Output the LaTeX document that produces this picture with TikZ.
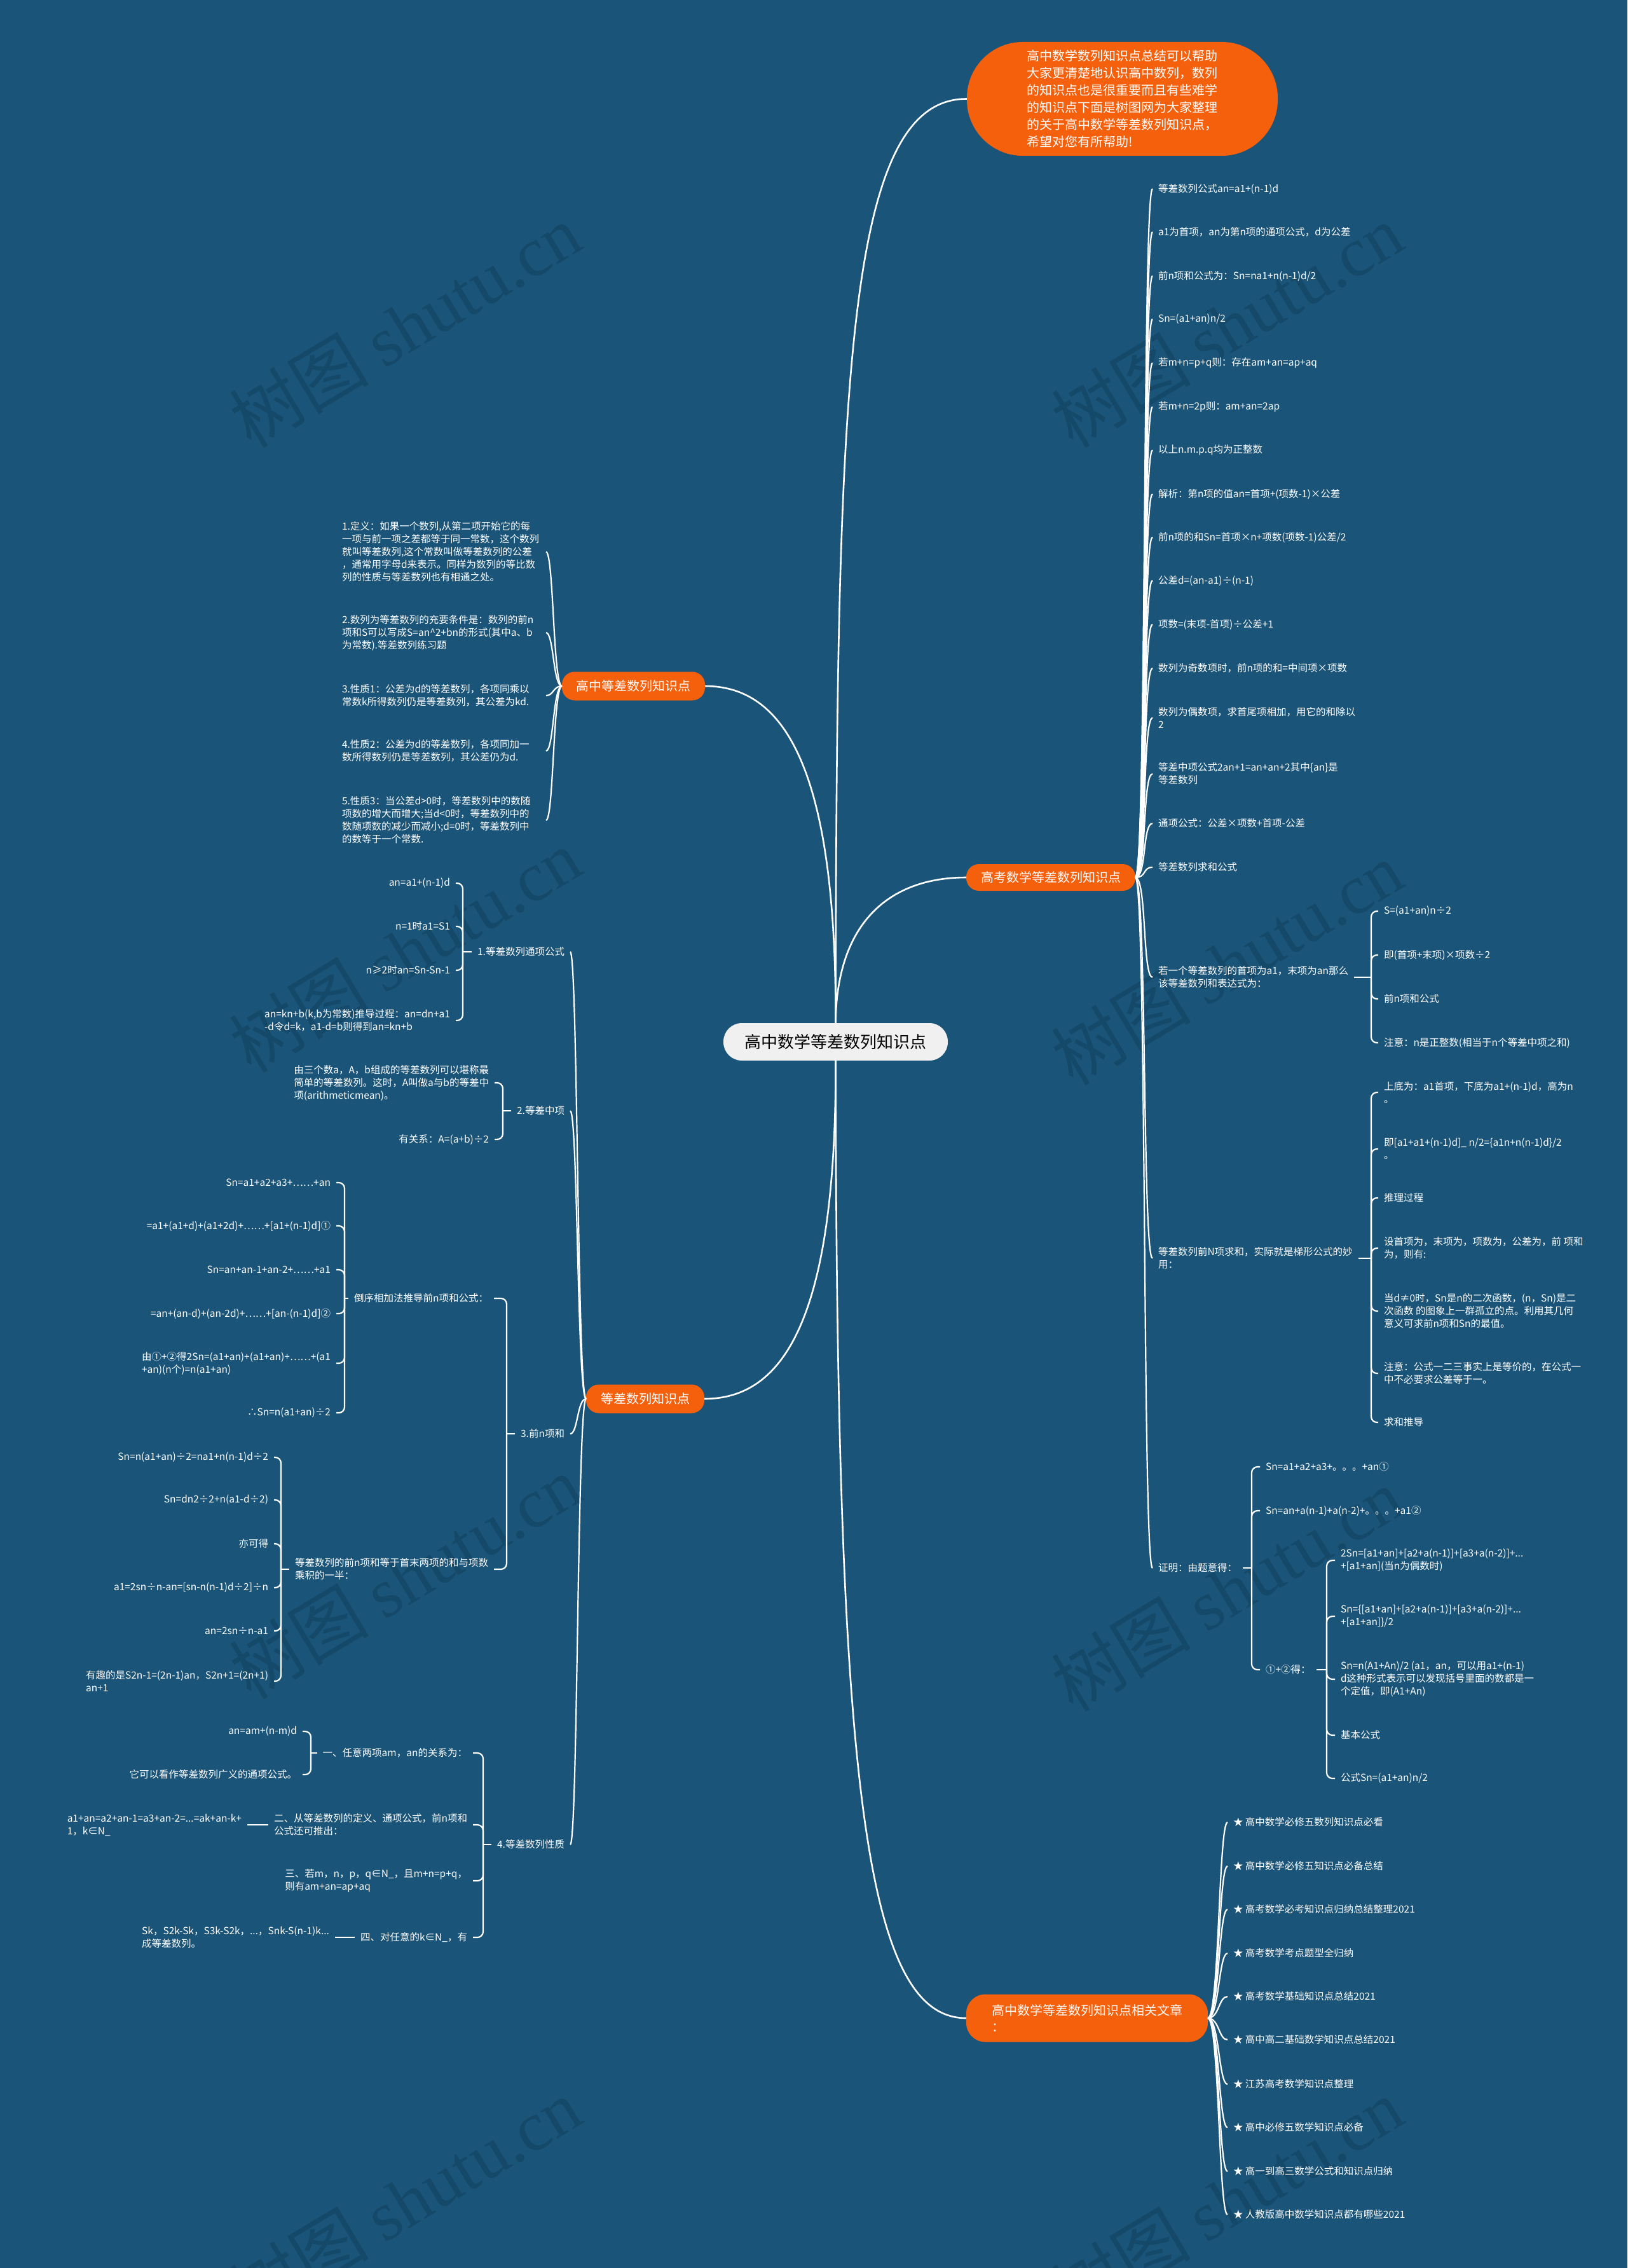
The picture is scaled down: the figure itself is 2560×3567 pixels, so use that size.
\documentclass[tikz,border=0pt]{standalone}
\usepackage{fontspec}
\setmainfont{Noto Sans CJK SC}
\newfontfamily\wmlatin{Liberation Serif}
\definecolor{bgc}{RGB}{26,84,121}
\definecolor{orn}{RGB}{245,96,12}
\definecolor{cfill}{RGB}{240,240,240}
\definecolor{wmc}{RGB}{21,73,106}
\begin{document}
\begin{tikzpicture}[x=1pt,y=-1pt,
  conn/.style={draw=white,line width=2.2pt},
  topconn/.style={draw=white,line width=2.6pt},
  txt/.style={text=white,font=\fontsize{15.5}{20}\selectfont,inner sep=3pt,outer sep=6pt,align=left},
  mainnode/.style={fill=orn,text=white,font=\fontsize{20}{26}\selectfont,rounded corners=20pt,minimum height=42pt,inner sep=0pt,outer sep=0pt,align=center},
  wm/.style={text=wmc,rotate=31,font=\fontsize{110}{110}\selectfont}]
\useasboundingbox (0,0) rectangle (2560,3567);
\fill[bgc] (0,0) rectangle (2560,3567);
% watermarks
\foreach \p in {(637,512),(1930,512),(637,1495),(1930,1515),(637,2480),(1930,2500),(637,3460),(1930,3460)}
  \node[wm] at \p {树图 {\wmlatin shutu.cn}};

% central and main nodes
\node[fill=cfill,text=black,rounded corners=29pt,minimum width=353pt,minimum height=59pt,inner sep=0pt,font=\fontsize{26}{30}\selectfont] (C) at (1314.5,1638.5) {高中数学等差数列知识点};
\node[fill=orn,text=white,rounded corners=88pt,minimum width=489pt,minimum height=179pt,inner sep=0pt,align=left,font=\fontsize{20}{27}\selectfont] (R0) at (1765.5,155.5) {高中数学数列知识点总结可以帮助\\大家更清楚地认识高中数列，数列\\的知识点也是很重要而且有些难学\\的知识点下面是树图网为大家整理\\的关于高中数学等差数列知识点，\\希望对您有所帮助!};
\node[mainnode,minimum width=266pt] (R1) at (1653,1380) {高考数学等差数列知识点};
\node[mainnode,minimum width=380pt,minimum height=75pt,rounded corners=30pt,align=left] (R3) at (1710,3174) {高中数学等差数列知识点相关文章\\：};
\node[mainnode,minimum width=225pt,minimum height=45pt] (L1) at (996.5,1079) {高中等差数列知识点};
\node[mainnode,minimum width=186pt,minimum height=45pt] (L2) at (1015,2200) {等差数列知识点};

\draw[topconn] (C.north) .. controls (1316,600) and (1330,155) .. (R0.west);
\draw[topconn] (C.north) .. controls (1316,1450) and (1400,1380) .. (R1.west);
\draw[topconn] (C.south) .. controls (1316,2800) and (1360,3174) .. (R3.west);
\draw[topconn] (C.north) .. controls (1316,1200) and (1230,1079) .. (L1.east);
\draw[topconn] (C.south) .. controls (1316,2080) and (1230,2200) .. (L2.east);

% ---------- R1 children ----------
\node[txt,anchor=west] (r1) at (1813,297) {等差数列公式an=a1+(n-1)d};
\node[txt,anchor=west] (r2) at (1813,365) {a1为首项，an为第n项的通项公式，d为公差};
\node[txt,anchor=west] (r3) at (1813,434) {前n项和公式为：Sn=na1+n(n-1)d/2};
\node[txt,anchor=west] (r4) at (1813,502) {Sn=(a1+an)n/2};
\node[txt,anchor=west] (r5) at (1813,571) {若m+n=p+q则：存在am+an=ap+aq};
\node[txt,anchor=west] (r6) at (1813,640) {若m+n=2p则：am+an=2ap};
\node[txt,anchor=west] (r7) at (1813,708) {以上n.m.p.q均为正整数};
\node[txt,anchor=west] (r8) at (1813,777) {解析：第n项的值an=首项+(项数-1)×公差};
\node[txt,anchor=west] (r9) at (1813,845) {前n项的和Sn=首项×n+项数(项数-1)公差/2};
\node[txt,anchor=west] (r10) at (1813,913) {公差d=(an-a1)÷(n-1)};
\node[txt,anchor=west] (r11) at (1813,982) {项数=(末项-首项)÷公差+1};
\node[txt,anchor=west] (r12) at (1813,1051) {数列为奇数项时，前n项的和=中间项×项数};
\node[txt,anchor=west] (r13) at (1813,1129) {数列为偶数项，求首尾项相加，用它的和除以\\2};
\node[txt,anchor=west] (r14) at (1813,1217) {等差中项公式2an+1=an+an+2其中\{an\}是\\等差数列};
\node[txt,anchor=west] (r15) at (1813,1295) {通项公式：公差×项数+首项-公差};
\node[txt,anchor=west] (r16) at (1813,1364) {等差数列求和公式};
\node[txt,anchor=west] (r17) at (1813,1537) {若一个等差数列的首项为a1，末项为an那么\\该等差数列和表达式为：};
\node[txt,anchor=west] (r18) at (1813,1979) {等差数列前N项求和，实际就是梯形公式的妙\\用：};
\node[txt,anchor=west] (r19) at (1813,2466) {证明：由题意得：};
\foreach \c in {r1,r2,r3,r4,r5,r6,r7,r8,r9,r10,r11,r12,r13,r14,r15,r16,r17,r18,r19}
  \draw[conn] (R1.east) .. controls +(18,0) and +(-16,0) .. (\c.west);

% r17 children
\node[txt,anchor=west] (r17a) at (2168,1433) {S=(a1+an)n÷2};
\node[txt,anchor=west] (r17b) at (2168,1502) {即(首项+末项)×项数÷2};
\node[txt,anchor=west] (r17c) at (2168,1571) {前n项和公式};
\node[txt,anchor=west] (r17d) at (2168,1640) {注意：n是正整数(相当于n个等差中项之和)};
\coordinate (j17) at (2157,1537);
\draw[conn] (r17.east |- j17) -- (j17);
\foreach \c in {r17a,r17b,r17c,r17d} \draw[conn,rounded corners=9pt] (j17) |- (\c.west);

% r18 children
\node[txt,anchor=west] (r18a) at (2168,1718) {上底为：a1首项，下底为a1+(n-1)d，高为n\\。};
\node[txt,anchor=west] (r18b) at (2168,1807) {即[a1+a1+(n-1)d]\_ n/2=\{a1n+n(n-1)d\}/2\\。};
\node[txt,anchor=west] (r18c) at (2168,1884) {推理过程};
\node[txt,anchor=west] (r18d) at (2168,1963) {设首项为，末项为，项数为，公差为，前 项和\\为，则有:};
\node[txt,anchor=west] (r18e) at (2168,2062) {当d≠0时，Sn是n的二次函数，(n，Sn)是二\\次函数 的图象上一群孤立的点。利用其几何\\意义可求前n项和Sn的最值。};
\node[txt,anchor=west] (r18f) at (2168,2160) {注意：公式一二三事实上是等价的，在公式一\\中不必要求公差等于一。};
\node[txt,anchor=west] (r18g) at (2168,2237) {求和推导};
\coordinate (j18) at (2157,1979);
\draw[conn] (r18.east |- j18) -- (j18);
\foreach \c in {r18a,r18b,r18c,r18d,r18e,r18f,r18g} \draw[conn,rounded corners=9pt] (j18) |- (\c.west);

% r19 children
\node[txt,anchor=west] (r19a) at (1982,2307) {Sn=a1+a2+a3+。。。+an①};
\node[txt,anchor=west] (r19b) at (1982,2376) {Sn=an+a(n-1)+a(n-2)+。。。+a1②};
\node[txt,anchor=west] (r19c) at (1982,2626) {①+②得：};
\coordinate (j19) at (1969,2466);
\draw[conn] (r19.east |- j19) -- (j19);
\foreach \c in {r19a,r19b,r19c} \draw[conn,rounded corners=9pt] (j19) |- (\c.west);

\node[txt,anchor=west] (r19c1) at (2100,2454) {2Sn=[a1+an]+[a2+a(n-1)]+[a3+a(n-2)]+...\\+[a1+an](当n为偶数时)};
\node[txt,anchor=west] (r19c2) at (2100,2542) {Sn=\{[a1+an]+[a2+a(n-1)]+[a3+a(n-2)]+...\\+[a1+an]\}/2};
\node[txt,anchor=west] (r19c3) at (2100,2641) {Sn=n(A1+An)/2 (a1，an，可以用a1+(n-1)\\d这种形式表示可以发现括号里面的数都是一\\个定值，即(A1+An)};
\node[txt,anchor=west] (r19c4) at (2100,2729) {基本公式};
\node[txt,anchor=west] (r19c5) at (2100,2797) {公式Sn=(a1+an)n/2};
\coordinate (j19c) at (2087,2626);
\draw[conn] (r19c.east |- j19c) -- (j19c);
\foreach \c in {r19c1,r19c2,r19c3,r19c4,r19c5} \draw[conn,rounded corners=9pt] (j19c) |- (\c.west);

% ---------- R3 children ----------
\node[txt,anchor=west] (s1) at (1931,2866) {★ 高中数学必修五数列知识点必看};
\node[txt,anchor=west] (s2) at (1931,2935) {★ 高中数学必修五知识点必备总结};
\node[txt,anchor=west] (s3) at (1931,3003) {★ 高考数学必考知识点归纳总结整理2021};
\node[txt,anchor=west] (s4) at (1931,3072) {★ 高考数学考点题型全归纳};
\node[txt,anchor=west] (s5) at (1931,3140) {★ 高考数学基础知识点总结2021};
\node[txt,anchor=west] (s6) at (1931,3208) {★ 高中高二基础数学知识点总结2021};
\node[txt,anchor=west] (s7) at (1931,3278) {★ 江苏高考数学知识点整理};
\node[txt,anchor=west] (s8) at (1931,3346) {★ 高中必修五数学知识点必备};
\node[txt,anchor=west] (s9) at (1931,3415) {★ 高一到高三数学公式和知识点归纳};
\node[txt,anchor=west] (s10) at (1931,3483) {★ 人教版高中数学知识点都有哪些2021};
\foreach \c in {s1,s2,s3,s4,s5,s6,s7,s8,s9,s10}
  \draw[conn] (R3.east) .. controls +(18,0) and +(-14,0) .. (\c.west);

% ---------- L1 children ----------
\node[txt,anchor=west] (l1) at (529,868) {1.定义：如果一个数列,从第二项开始它的每\\一项与前一项之差都等于同一常数，这个数列\\就叫等差数列,这个常数叫做等差数列的公差\\，通常用字母d来表示。同样为数列的等比数\\列的性质与等差数列也有相通之处。};
\node[txt,anchor=west] (l2) at (529,995) {2.数列为等差数列的充要条件是：数列的前n\\项和S可以写成S=an\^{}2+bn的形式(其中a、b\\为常数).等差数列练习题};
\node[txt,anchor=west] (l3) at (529,1094) {3.性质1：公差为d的等差数列，各项同乘以\\常数k所得数列仍是等差数列，其公差为kd.};
\node[txt,anchor=west] (l4) at (529,1181) {4.性质2：公差为d的等差数列，各项同加一\\数所得数列仍是等差数列，其公差仍为d.};
\node[txt,anchor=west] (l5) at (529,1290) {5.性质3：当公差d>0时，等差数列中的数随\\项数的增大而增大;当d<0时，等差数列中的\\数随项数的减少而减小;d=0时，等差数列中\\的数等于一个常数.};
\foreach \c in {l1,l2,l3,l4,l5}
  \draw[conn] (L1.west) .. controls +(-14,0) and +(12,0) .. (\c.east -| 859,0);

% ---------- L2 children ----------
\node[txt,anchor=east] (n1) at (897,1497) {1.等差数列通项公式};
\node[txt,anchor=east] (n2) at (897,1747) {2.等差中项};
\node[txt,anchor=east] (n3) at (897,2255) {3.前n项和};
\node[txt,anchor=east] (n4) at (897,2901) {4.等差数列性质};
\foreach \c in {n1,n2,n3,n4}
  \draw[conn] (L2.west) .. controls +(-14,0) and +(12,0) .. (\c.east);

% n1 children
\node[txt,anchor=east] (n1a) at (717,1389) {an=a1+(n-1)d};
\node[txt,anchor=east] (n1b) at (717,1457) {n=1时a1=S1};
\node[txt,anchor=east] (n1c) at (717,1526) {n≥2时an=Sn-Sn-1};
\node[txt,anchor=east] (n1d) at (717,1605) {an=kn+b(k,b为常数)推导过程：an=dn+a1\\-d令d=k，a1-d=b则得到an=kn+b};
\coordinate (j1) at (728,1497);
\draw[conn] (n1.west) -- (j1);
\foreach \c in {n1a,n1b,n1c,n1d} \draw[conn,rounded corners=9pt] (j1) |- (\c.east);

% n2 children
\node[txt,anchor=east] (n2a) at (778,1703) {由三个数a，A，b组成的等差数列可以堪称最\\简单的等差数列。这时，A叫做a与b的等差中\\项(arithmeticmean)。};
\node[txt,anchor=east] (n2b) at (778,1792) {有关系：A=(a+b)÷2};
\coordinate (j2) at (791,1747);
\draw[conn] (n2.west) -- (j2);
\foreach \c in {n2a,n2b} \draw[conn,rounded corners=9pt] (j2) |- (\c.east);

% n3 children
\node[txt,anchor=east] (n3a) at (777,2042) {倒序相加法推导前n项和公式：};
\node[txt,anchor=east] (n3b) at (777,2468) {等差数列的前n项和等于首末两项的和与项数\\乘积的一半：};
\coordinate (j3) at (797,2255);
\draw[conn] (n3.west) -- (j3);
\foreach \c in {n3a,n3b} \draw[conn,rounded corners=9pt] (j3) |- (\c.east);

\node[txt,anchor=east] (n3a1) at (529,1860) {Sn=a1+a2+a3+……+an};
\node[txt,anchor=east] (n3a2) at (529,1928) {=a1+(a1+d)+(a1+2d)+……+[a1+(n-1)d]①};
\node[txt,anchor=east] (n3a3) at (529,1997) {Sn=an+an-1+an-2+……+a1};
\node[txt,anchor=east] (n3a4) at (529,2066) {=an+(an-d)+(an-2d)+……+[an-(n-1)d]②};
\node[txt,anchor=east] (n3a5) at (529,2144) {由①+②得2Sn=(a1+an)+(a1+an)+……+(a1\\+an)(n个)=n(a1+an)};
\node[txt,anchor=east] (n3a6) at (529,2222) {∴Sn=n(a1+an)÷2};
\coordinate (j3a) at (542,2042);
\draw[conn] (n3a.west) -- (j3a);
\foreach \c in {n3a1,n3a2,n3a3,n3a4,n3a5,n3a6} \draw[conn,rounded corners=9pt] (j3a) |- (\c.east);

\node[txt,anchor=east] (n3b1) at (431,2292) {Sn=n(a1+an)÷2=na1+n(n-1)d÷2};
\node[txt,anchor=east] (n3b2) at (431,2359) {Sn=dn2÷2+n(a1-d÷2)};
\node[txt,anchor=east] (n3b3) at (431,2428) {亦可得};
\node[txt,anchor=east] (n3b4) at (431,2497) {a1=2sn÷n-an=[sn-n(n-1)d÷2]÷n};
\node[txt,anchor=east] (n3b5) at (431,2565) {an=2sn÷n-a1};
\node[txt,anchor=east] (n3b6) at (431,2644) {有趣的是S2n-1=(2n-1)an，S2n+1=(2n+1)\\an+1};
\coordinate (j3b) at (442,2468);
\draw[conn] (n3b.west) -- (j3b);
\foreach \c in {n3b1,n3b2,n3b3,n3b4,n3b5,n3b6} \draw[conn,rounded corners=9pt] (j3b) |- (\c.east);

% n4 children
\node[txt,anchor=east] (n4a) at (744,2757) {一、任意两项am，an的关系为：};
\node[txt,anchor=east] (n4b) at (744,2870) {二、从等差数列的定义、通项公式，前n项和\\公式还可推出：};
\node[txt,anchor=east] (n4c) at (744,2958) {三、若m，n，p，q∈N\_，且m+n=p+q，\\则有am+an=ap+aq};
\node[txt,anchor=east] (n4d) at (744,3047) {四、对任意的k∈N\_，有};
\coordinate (j4) at (760,2901);
\draw[conn] (n4.west) -- (j4);
\foreach \c in {n4a,n4b,n4c,n4d} \draw[conn,rounded corners=9pt] (j4) |- (\c.east);

\node[txt,anchor=east] (n4a1) at (476,2723) {an=am+(n-m)d};
\node[txt,anchor=east] (n4a2) at (476,2791) {它可以看作等差数列广义的通项公式。};
\coordinate (j4a) at (489,2757);
\draw[conn] (n4a.west) -- (j4a);
\foreach \c in {n4a1,n4a2} \draw[conn,rounded corners=9pt] (j4a) |- (\c.east);

\node[txt,anchor=east] (n4b1) at (389,2870) {a1+an=a2+an-1=a3+an-2=...=ak+an-k+\\1，k∈N\_};
\draw[conn] (n4b.west) -- (n4b1.east);
\node[txt,anchor=east] (n4d1) at (527,3047) {Sk，S2k-Sk，S3k-S2k，...，Snk-S(n-1)k...\\成等差数列。};
\draw[conn] (n4d.west) -- (n4d1.east);
\end{tikzpicture}
\end{document}
